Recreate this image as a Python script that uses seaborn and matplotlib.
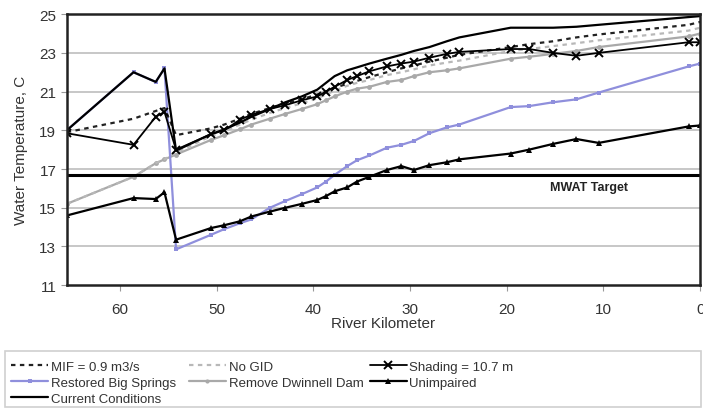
import matplotlib
matplotlib.use("Agg")
import matplotlib.pyplot as plt
import seaborn as sns
from matplotlib.lines import Line2D
from matplotlib.patches import Rectangle

# River kilometre stations (upstream on the left)
river_km = [65.5, 58.6, 56.3, 55.4, 54.2, 50.6, 49.2, 47.6, 46.4, 44.5, 42.9,
            41.2, 39.6, 38.7, 37.8, 36.5, 35.5, 34.2, 32.4, 30.9, 29.6, 28.0,
            26.2, 24.9, 19.6, 17.7, 15.2, 12.8, 10.5, 1.2, 0.0]

mif = [18.9, 19.6, 20.0, 20.15, 18.75, 19.1, 19.3, 19.6, 19.85, 20.15, 20.4,
       20.6, 20.85, 21.0, 21.2, 21.4, 21.55, 21.75, 22.0, 22.2, 22.35, 22.55,
       22.75, 22.9, 23.3, 23.45, 23.6, 23.8, 23.95, 24.45, 24.6]
no_gid = [15.2, 16.6, 17.3, 17.5, 17.85, 18.7, 18.95, 19.3, 19.55, 19.9, 20.15,
          20.4, 20.65, 20.85, 21.05, 21.3, 21.45, 21.6, 21.85, 22.0, 22.15, 22.35,
          22.5, 22.6, 23.1, 23.2, 23.35, 23.5, 23.65, 24.15, 24.3]
shading = [18.85, 18.25, 19.7, 19.95, 18.0, 18.8, 19.0, 19.55, 19.8, 20.1, 20.3,
           20.55, 20.75, 21.0, 21.25, 21.6, 21.8, 22.05, 22.3, 22.45, 22.55, 22.75,
           22.95, 23.05, 23.2, 23.2, 23.0, 22.85, 23.0, 23.55, 23.55]
restored = [19.0, 22.0, 21.5, 22.2, 12.85, 13.6, 13.9, 14.2, 14.4, 15.0, 15.35,
            15.7, 16.05, 16.35, 16.7, 17.15, 17.45, 17.7, 18.1, 18.25, 18.45, 18.85,
            19.15, 19.3, 20.2, 20.25, 20.45, 20.6, 20.95, 22.3, 22.45]
remove_dwinnell = [15.2, 16.6, 17.3, 17.5, 17.75, 18.5, 18.75, 19.05, 19.3, 19.6, 19.85,
                   20.1, 20.35, 20.55, 20.75, 21.0, 21.15, 21.25, 21.5, 21.6, 21.8, 22.0,
                   22.1, 22.2, 22.7, 22.8, 22.95, 23.1, 23.3, 23.85, 24.0]
unimpaired = [14.6, 15.5, 15.45, 15.8, 13.35, 13.95, 14.1, 14.3, 14.55, 14.8, 15.0,
              15.2, 15.4, 15.6, 15.85, 16.05, 16.35, 16.6, 16.95, 17.15, 16.95, 17.2,
              17.35, 17.5, 17.8, 18.0, 18.3, 18.55, 18.35, 19.2, 19.25]
current = [19.0, 22.0, 21.5, 22.2, 17.95, 18.8, 19.05, 19.4, 19.7, 20.1, 20.45,
           20.75, 21.1, 21.45, 21.8, 22.1, 22.25, 22.45, 22.7, 22.9, 23.1, 23.3,
           23.6, 23.8, 24.3, 24.3, 24.3, 24.35, 24.45, 24.85, 24.9]

mwat_target = 16.7
blue = "#8f8fdc"
gray = "#a9a9a9"
dots = (0, (2, 2))

sns.set_style("white")
plt.rcParams["font.family"] = ["Liberation Sans", "DejaVu Sans"]

fig = plt.figure(figsize=(7.03, 4.10), dpi=100)
ax = fig.add_axes([0.095, 0.302, 0.901, 0.661])

for y in range(13, 25, 2):
    ax.axhline(y, color="#bdbdbd", lw=1.2, zorder=0)

sns.lineplot(x=river_km, y=remove_dwinnell, ax=ax, color=gray, lw=1.6,
             marker="o", markersize=3.5, markeredgewidth=0, sort=False)
sns.lineplot(x=river_km, y=no_gid, ax=ax, color="#b8b8b8", lw=1.6,
             linestyle=dots, sort=False)
sns.lineplot(x=river_km, y=restored, ax=ax, color=blue, lw=1.6,
             marker="s", markersize=3.5, markeredgewidth=0, sort=False)
sns.lineplot(x=river_km, y=unimpaired, ax=ax, color="black", lw=1.6,
             marker="^", markersize=5, markeredgewidth=0, sort=False)
sns.lineplot(x=river_km, y=mif, ax=ax, color="#222222", lw=1.6,
             linestyle=dots, sort=False)
sns.lineplot(x=river_km, y=shading, ax=ax, color="black", lw=1.3,
             marker="x", markersize=6, markeredgewidth=1.4,
             markeredgecolor="black", sort=False)
sns.lineplot(x=river_km, y=current, ax=ax, color="black", lw=1.6, sort=False)

ax.axhline(mwat_target, color="black", lw=2.2)
ax.text(15.5, mwat_target - 0.3, "MWAT Target", fontsize=9, fontweight="bold",
        ha="left", va="top", color="#222222")

ax.set_xlim(65.5, 0)
ax.set_ylim(11, 25)
ax.set_yticks(range(11, 26, 2))
ax.set_xticks([60, 50, 40, 30, 20, 10, 0])
ax.tick_params(axis="both", labelsize=11, colors="#333333", length=4,
               direction="out", bottom=True, left=True, color="#999999")
ax.tick_params(axis="x", pad=8)
for side in ["left", "bottom", "top", "right"]:
    ax.spines[side].set_color("#222222")
    ax.spines[side].set_linewidth(1.8)
ax.set_xlabel("River Kilometer", fontsize=11, color="#333333", labelpad=0)
ax.set_ylabel("Water Temperature, C", fontsize=11, color="#333333", labelpad=8)

# legend box spanning the figure width
fig.patches.append(Rectangle((0.007, 0.004), 0.99, 0.138, transform=fig.transFigure,
                             facecolor="white", edgecolor="#d0d0d0", lw=1.2))

columns = [
    ([Line2D([], [], color="#222222", lw=1.6, linestyle=dots),
      Line2D([], [], color=blue, lw=1.6, marker="s", markersize=3, markeredgewidth=0),
      Line2D([], [], color="black", lw=1.6)],
     ["MIF = 0.9 m3/s", "Restored Big Springs", "Current Conditions"], 0.012),
    ([Line2D([], [], color="#b8b8b8", lw=1.6, linestyle=dots),
      Line2D([], [], color=gray, lw=1.6, marker="o", markersize=3, markeredgewidth=0)],
     ["No GID", "Remove Dwinnell Dam"], 0.265),
    ([Line2D([], [], color="black", lw=1.3, marker="x", markersize=6, markeredgewidth=1.4),
      Line2D([], [], color="black", lw=1.6, marker="^", markersize=4.5, markeredgewidth=0)],
     ["Shading = 10.7 m", "Unimpaired"], 0.522),
]
for hs, ls, x0 in columns:
    leg = fig.legend(hs, ls, loc="upper left", bbox_to_anchor=(x0, 0.125),
                     frameon=False, fontsize=9.5, handlelength=2.8,
                     handletextpad=0.2, labelspacing=0.3, borderaxespad=0,
                     borderpad=0.2)
    for t in leg.get_texts():
        t.set_color("#333333")

fig.savefig("out.png", dpi=100)
